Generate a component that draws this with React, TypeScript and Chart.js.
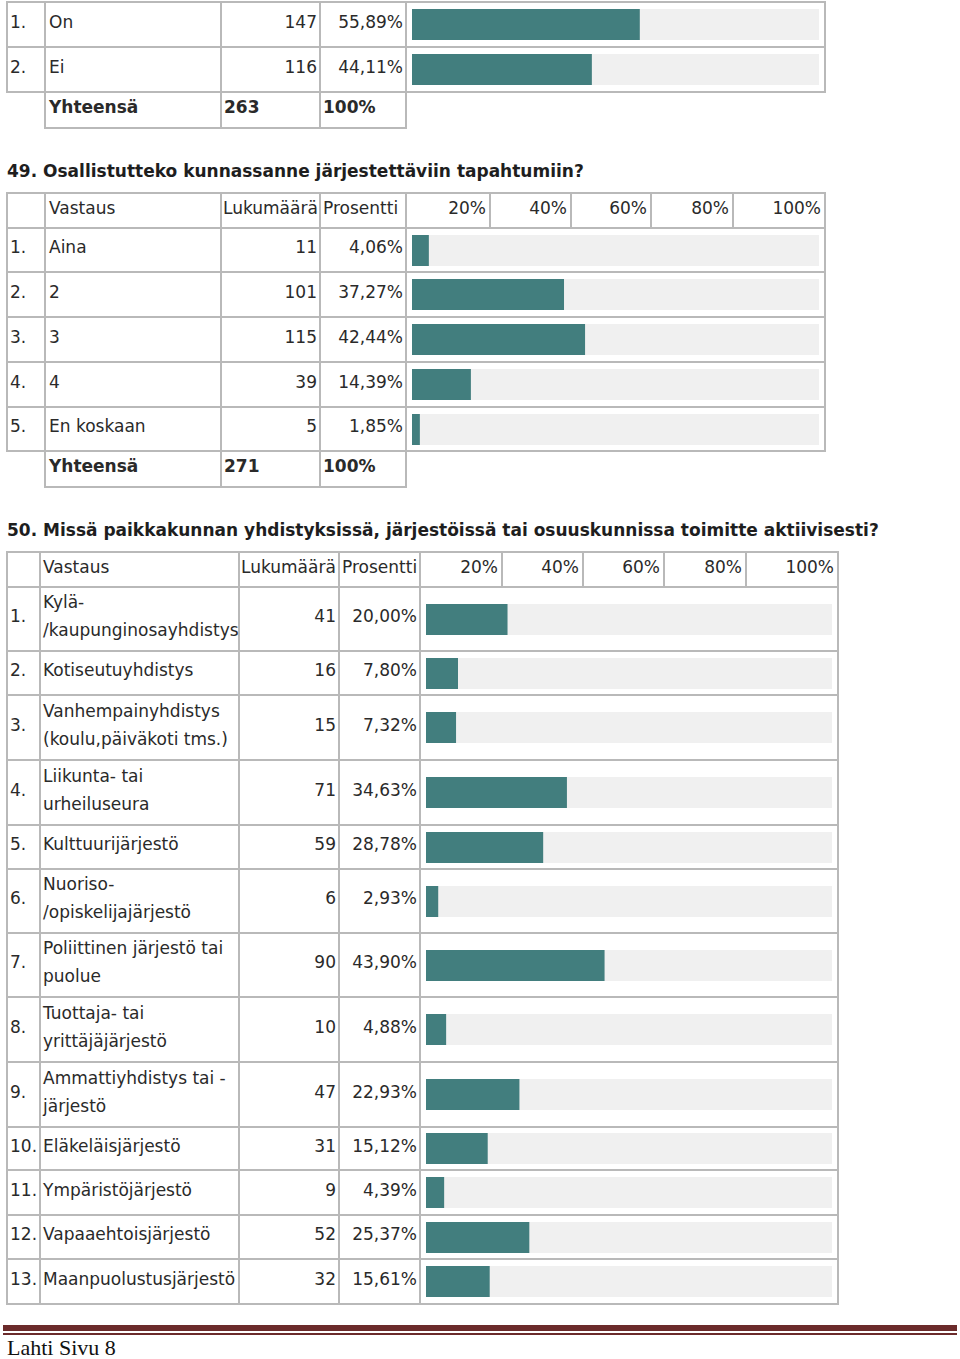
import React, { useEffect, useRef } from "react";
import { Chart, registerables } from "chart.js";

Chart.register(...registerables);

// ---------- DATA ----------
const q48Labels = ["On", "Ei"];
const q48Counts = [147, 116];
const q48Percents = [55.89, 44.11];
const q48Total = 263;

const q49Title = "49. Osallistutteko kunnassanne järjestettäviin tapahtumiin?";
const q49Labels = ["Aina", "2", "3", "4", "En koskaan"];
const q49Counts = [11, 101, 115, 39, 5];
const q49Percents = [4.06, 37.27, 42.44, 14.39, 1.85];
const q49Total = 271;

const q50Title =
  "50. Missä paikkakunnan yhdistyksissä, järjestöissä tai osuuskunnissa toimitte aktiivisesti?";
const q50Labels = [
  ["Kylä-", "/kaupunginosayhdistys"],
  ["Kotiseutuyhdistys"],
  ["Vanhempainyhdistys", "(koulu,päiväkoti tms.)"],
  ["Liikunta- tai", "urheiluseura"],
  ["Kulttuurijärjestö"],
  ["Nuoriso-", "/opiskelijajärjestö"],
  ["Poliittinen järjestö tai", "puolue"],
  ["Tuottaja- tai", "yrittäjäjärjestö"],
  ["Ammattiyhdistys tai -", "järjestö"],
  ["Eläkeläisjärjestö"],
  ["Ympäristöjärjestö"],
  ["Vapaaehtoisjärjestö"],
  ["Maanpuolustusjärjestö"],
];
const q50Counts = [41, 16, 15, 71, 59, 6, 90, 10, 47, 31, 9, 52, 32];
const q50Percents = [20.0, 7.8, 7.32, 34.63, 28.78, 2.93, 43.9, 4.88, 22.93, 15.12, 4.39, 25.37, 15.61];

const headerLabels = ["Vastaus", "Lukumäärä", "Prosentti"];
const tickLabels = ["20%", "40%", "60%", "80%", "100%"];
const totalLabel = "Yhteensä";
const footerText = "Lahti Sivu 8";

// ---------- STYLE ----------
const TEAL = "#427e7e";
const TRACK = "#f0f0f0";
const BORDER = "#b9b9b9";
const TEXT = "#2a2a2a";
const FONT = "'DejaVu Sans', Verdana, sans-serif";
const FS = 17;

const fmtPct = (v: number) => v.toFixed(2).replace(".", ",") + "%";

function BarCell({ value, x, y, w, h }: { value: number; x: number; y: number; w: number; h: number }) {
  const ref = useRef<HTMLCanvasElement | null>(null);
  useEffect(() => {
    if (!ref.current) return;
    const chart = new Chart(ref.current, {
      type: "bar",
      data: {
        labels: [""],
        datasets: [
          {
            data: [value],
            backgroundColor: TEAL,
            borderWidth: 0,
            barPercentage: 1,
            categoryPercentage: 1,
          },
          {
            data: [100 - value],
            backgroundColor: TRACK,
            borderWidth: 0,
            barPercentage: 1,
            categoryPercentage: 1,
          },
        ],
      },
      options: {
        indexAxis: "y",
        responsive: false,
        animation: false,
        devicePixelRatio: 1,
        layout: { padding: 0 },
        scales: {
          x: { type: "linear", min: 0, max: 100, stacked: true, display: false },
          y: { stacked: true, display: false },
        },
        plugins: { legend: { display: false }, tooltip: { enabled: false } },
      },
    });
    return () => chart.destroy();
  }, [value]);
  return (
    <canvas
      ref={ref}
      width={w}
      height={h}
      style={{ position: "absolute", left: x, top: y, width: w, height: h }}
    />
  );
}

function Box({ x0, x1, y0, y1 }: { x0: number; x1: number; y0: number; y1: number }) {
  return (
    <div
      style={{
        position: "absolute",
        left: x0 - 1,
        top: y0 - 1,
        width: x1 - x0 + 2,
        height: y1 - y0 + 2,
        border: `2px solid ${BORDER}`,
        boxSizing: "border-box",
      }}
    />
  );
}

function Txt({
  x0,
  x1,
  y0,
  y1,
  lines,
  align = "left",
  bold = false,
  padL = 3,
  padR = 3,
}: {
  x0: number;
  x1: number;
  y0: number;
  y1: number;
  lines: string[];
  align?: "left" | "right";
  bold?: boolean;
  padL?: number;
  padR?: number;
}) {
  return (
    <div
      style={{
        position: "absolute",
        left: x0 + padL,
        top: y0 - 3,
        width: x1 - x0 - padL - padR,
        height: y1 - y0,
        display: "flex",
        flexDirection: "column",
        justifyContent: "center",
        alignItems: align === "left" ? "flex-start" : "flex-end",
        fontFamily: FONT,
        fontSize: FS,
        lineHeight: "28px",
        fontWeight: bold ? "bold" : "normal",
        color: TEXT,
        whiteSpace: "nowrap",
      }}
    >
      {lines.map((l, i) => (
        <div key={i}>{l}</div>
      ))}
    </div>
  );
}

type TableProps = {
  cols: number[];
  rows: number[];
  header?: number[];
  ticks?: number[];
  labels: string[][];
  counts: number[];
  percents: number[];
  total?: number;
  totalBottom?: number;
  ansPad: number;
  barInset: number;
  barH: number;
};

function SurveyTable(p: TableProps) {
  const els: React.ReactNode[] = [];
  const [c0, c1, c2, c3, c4, c5] = p.cols;
  let k = 0;
  if (p.header && p.ticks) {
    const [h0, h1] = p.header;
    [[c0, c1], [c1, c2], [c2, c3], [c3, c4]].forEach(([a, b]) =>
      els.push(<Box key={k++} x0={a} x1={b} y0={h0} y1={h1} />)
    );
    els.push(<Txt key={k++} x0={c1} x1={c2} y0={h0} y1={h1} lines={[headerLabels[0]]} padL={p.ansPad} />);
    els.push(<Txt key={k++} x0={c2} x1={c3} y0={h0} y1={h1} lines={[headerLabels[1]]} padL={2} />);
    els.push(<Txt key={k++} x0={c3} x1={c4} y0={h0} y1={h1} lines={[headerLabels[2]]} padL={3} />);
    for (let i = 0; i < tickLabels.length; i++) {
      const a = p.ticks[i];
      const b = p.ticks[i + 1];
      els.push(<Box key={k++} x0={a} x1={b} y0={h0} y1={h1} />);
      els.push(<Txt key={k++} x0={a} x1={b} y0={h0} y1={h1} lines={[tickLabels[i]]} align="right" padR={4} />);
    }
  }
  for (let r = 0; r < p.counts.length; r++) {
    const y0 = p.rows[r];
    const y1 = p.rows[r + 1];
    [[c0, c1], [c1, c2], [c2, c3], [c3, c4], [c4, c5]].forEach(([a, b]) =>
      els.push(<Box key={k++} x0={a} x1={b} y0={y0} y1={y1} />)
    );
    els.push(<Txt key={k++} x0={c0} x1={c1} y0={y0} y1={y1} lines={[`${r + 1}.`]} padL={3} />);
    els.push(<Txt key={k++} x0={c1} x1={c2} y0={y0} y1={y1} lines={p.labels[r]} padL={p.ansPad} />);
    els.push(<Txt key={k++} x0={c2} x1={c3} y0={y0} y1={y1} lines={[String(p.counts[r])]} align="right" padR={3} />);
    els.push(<Txt key={k++} x0={c3} x1={c4} y0={y0} y1={y1} lines={[fmtPct(p.percents[r])]} align="right" padR={3} />);
    const bh = p.barH;
    els.push(
      <BarCell
        key={k++}
        value={p.percents[r]}
        x={c4 + p.barInset}
        y={Math.round((y0 + y1) / 2 - bh / 2)}
        w={c5 - c4 - 2 * p.barInset}
        h={bh}
      />
    );
  }
  if (p.total !== undefined && p.totalBottom !== undefined) {
    const y0 = p.rows[p.counts.length];
    const y1 = p.totalBottom;
    [[c1, c2], [c2, c3], [c3, c4]].forEach(([a, b]) =>
      els.push(<Box key={k++} x0={a} x1={b} y0={y0} y1={y1} />)
    );
    els.push(<Txt key={k++} x0={c1} x1={c2} y0={y0} y1={y1} lines={[totalLabel]} bold padL={p.ansPad} />);
    els.push(<Txt key={k++} x0={c2} x1={c3} y0={y0} y1={y1} lines={[String(p.total)]} bold padL={3} />);
    els.push(<Txt key={k++} x0={c3} x1={c4} y0={y0} y1={y1} lines={["100%"]} bold padL={3} />);
  }
  return <>{els}</>;
}

function Heading({ text, cy }: { text: string; cy: number }) {
  return (
    <div
      style={{
        position: "absolute",
        left: 7,
        top: cy - 14,
        height: 28,
        lineHeight: "28px",
        fontFamily: FONT,
        fontSize: FS,
        fontWeight: "bold",
        color: "#1e1e1e",
        whiteSpace: "nowrap",
      }}
    >
      {text}
    </div>
  );
}

export default function App() {
  return (
    <div
      style={{
        position: "absolute",
        left: 0,
        top: 0,
        width: 960,
        height: 1359,
        background: "#fff",
        overflow: "hidden",
      }}
    >
      <SurveyTable
        cols={[7, 45, 221, 320, 406, 825]}
        rows={[2, 47, 92]}
        labels={q48Labels.map((l) => [l])}
        counts={q48Counts}
        percents={q48Percents}
        total={q48Total}
        totalBottom={128}
        ansPad={4}
        barInset={6}
        barH={31}
      />
      <Heading text={q49Title} cy={171} />
      <SurveyTable
        cols={[7, 45, 221, 320, 406, 825]}
        header={[193, 228]}
        ticks={[406, 490, 571, 651, 733, 825]}
        rows={[228, 272, 317, 362, 407, 451]}
        labels={q49Labels.map((l) => [l])}
        counts={q49Counts}
        percents={q49Percents}
        total={q49Total}
        totalBottom={487}
        ansPad={4}
        barInset={6}
        barH={31}
      />
      <Heading text={q50Title} cy={530} />
      <SurveyTable
        cols={[7, 40, 239, 339, 420, 838]}
        header={[552, 587]}
        ticks={[420, 502, 583, 664, 746, 838]}
        rows={[587, 651, 695, 760, 825, 869, 933, 997, 1062, 1127, 1170, 1215, 1259, 1304]}
        labels={q50Labels}
        counts={q50Counts}
        percents={q50Percents}
        ansPad={3}
        barInset={6}
        barH={31}
      />
      <div style={{ position: "absolute", left: 3, top: 1325, width: 954, height: 6, background: "#6b2b2b" }} />
      <div style={{ position: "absolute", left: 3, top: 1333, width: 954, height: 2, background: "#6b2b2b" }} />
      <div
        style={{
          position: "absolute",
          left: 7,
          top: 1337,
          height: 22,
          fontFamily: "'Liberation Serif', serif",
          fontSize: 22,
          lineHeight: "22px",
          color: "#111",
          whiteSpace: "nowrap",
        }}
      >
        {footerText}
      </div>
    </div>
  );
}
